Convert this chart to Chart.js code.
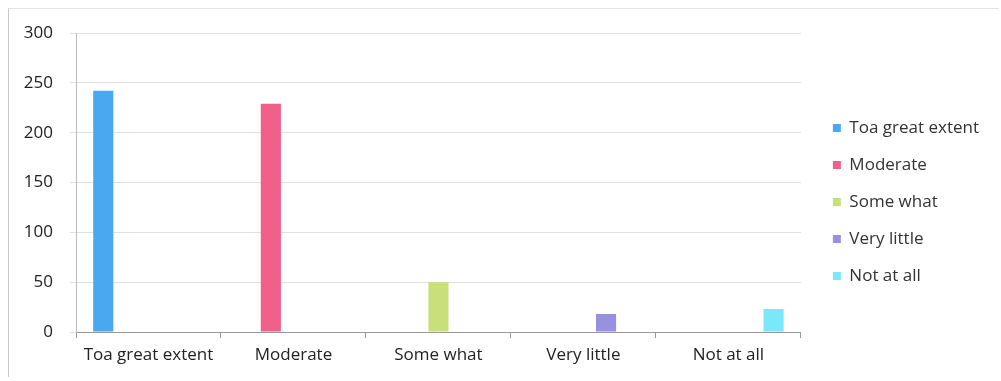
<!DOCTYPE html>
<html>
<head>
<meta charset="utf-8">
<script src="https://cdn.jsdelivr.net/npm/chart.js@4/dist/chart.umd.min.js"></script>
<style>
  html, body { margin: 0; padding: 0; background: #fff; }
  #wrap { position: relative; width: 1001px; height: 381px; }
  #frame { position: absolute; left: 8px; top: 8px; width: 990px; height: 368px;
           border-left: 1px solid #c8c8c8; border-top: 1px solid #e4e4e4; pointer-events: none; }
</style>
</head>
<body>
<div id="wrap">
  <canvas id="barChart" width="1001" height="381"></canvas>
  <div id="frame"></div>
</div>
<script>
const categories = ['Toa great extent', 'Moderate', 'Some what', 'Very little', 'Not at all'];
const seriesNames = ['Toa great extent', 'Moderate', 'Some what', 'Very little', 'Not at all'];
const seriesValues = [242, 229, 50, 18, 23];
const seriesColors = ['#4aa8f0', '#f0608a', '#c8e07a', '#9890e0', '#7ae8f8'];
const yTicks = [0, 50, 100, 150, 200, 250, 300];

// each series only has a value in its own category, like the original sheet
const datasets = seriesNames.map(function (name, i) {
    return {
        label: name,
        data: categories.map(function (c, j) { return j === i ? seriesValues[i] : null; }),
        backgroundColor: seriesColors[i],
        borderWidth: 0,
        categoryPercentage: 0.78,
        barPercentage: 0.89
    };
});

const fontFamily = '"Open Sans", "Noto Sans", sans-serif';

// push the legend a bit further away from the plot area
const legendGap = {
    id: 'legendGap',
    afterInit: function (chart) {
        const legend = chart.legend;
        const fit = legend.fit;
        legend.fit = function () {
            fit.call(this);
            this.width += 12;
        };
    },
    afterLayout: function (chart) {
        chart.legend.left += 12;
    }
};

const ctx = document.getElementById('barChart').getContext('2d');
const barChart = new Chart(ctx, {
    type: 'bar',
    data: { labels: categories, datasets: datasets },
    plugins: [legendGap],
    options: {
        responsive: false,
        animation: false,
        layout: { padding: { top: 33, bottom: 10, left: 10, right: 12 } },
        plugins: {
            tooltip: { enabled: false },
            legend: {
                position: 'right',
                align: 'center',
                labels: {
                    boxWidth: 8,
                    boxHeight: 8,
                    padding: 20,
                    color: '#333',
                    font: { family: fontFamily, size: 17 }
                }
            }
        },
        scales: {
            x: {
                grid: { display: true, drawOnChartArea: false, color: '#999', tickLength: 6, offset: true },
                border: { color: '#999' },
                ticks: { color: '#222', padding: 7, font: { family: fontFamily, size: 17 } },
                afterFit: function (scale) { scale.height = 39; }
            },
            y: {
                min: 0,
                max: 300,
                afterBuildTicks: function (scale) {
                    scale.ticks = yTicks.map(function (v) { return { value: v }; });
                },
                grid: { color: '#e0e0e0', tickLength: 6 },
                border: { color: '#bbb' },
                ticks: { color: '#222', padding: 17, font: { family: fontFamily, size: 17 } },
                afterFit: function (scale) { scale.width = 66; }
            }
        }
    }
});
console.log(barChart.chartArea);
</script>
</body>
</html>
